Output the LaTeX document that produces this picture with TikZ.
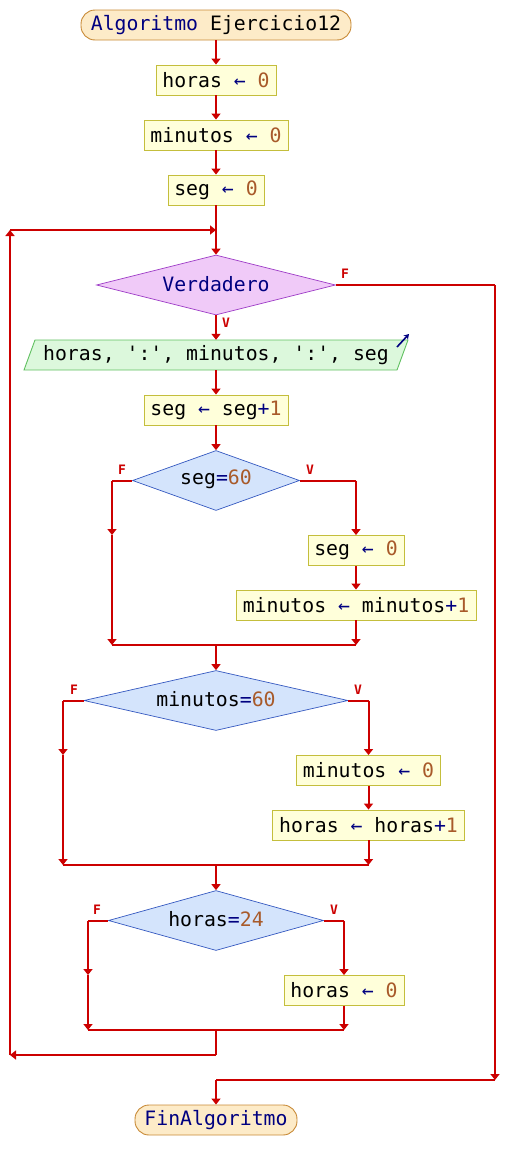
\documentclass[tikz,border=0pt]{standalone}
\usepackage{fontspec}
\newfontfamily\monof{DejaVu Sans Mono}
\usetikzlibrary{arrows.meta,shapes.geometric}
\definecolor{lred}{HTML}{CC0000}
\definecolor{navy}{HTML}{000080}
\definecolor{numc}{HTML}{A85A2A}
\definecolor{boxfill}{HTML}{FFFFDA}
\definecolor{boxline}{HTML}{C4BE3C}
\definecolor{termfill}{HTML}{FDEBC8}
\definecolor{termline}{HTML}{C88A36}
\definecolor{d1fill}{HTML}{F0CAF8}
\definecolor{d1line}{HTML}{A040C8}
\definecolor{dfill}{HTML}{D4E4FC}
\definecolor{dline}{HTML}{3458C0}
\definecolor{iofill}{HTML}{DCF8DC}
\definecolor{ioline}{HTML}{60C060}
\newcommand{\ar}{\textcolor{navy}{←}}
\newcommand{\nm}[1]{\textcolor{numc}{#1}}
\newcommand{\op}[1]{\textcolor{navy}{#1}}
\begin{document}
\begin{tikzpicture}[x=1pt,y=-1pt,
  txt/.style={font=\monof\fontsize{19.8}{22}\selectfont},
  assign/.style={txt,draw=boxline,fill=boxfill,line width=0.9pt,minimum height=30,inner sep=0pt},
  term/.style={txt,draw=termline,fill=termfill,line width=0.9pt,minimum height=30,inner sep=0pt,rounded corners=14pt},
  dia/.style={diamond,inner sep=0pt,line width=0.7pt,minimum height=60},
  flow/.style={draw=lred,line width=2pt},
  arr/.style={flow,-{Triangle[width=9pt,length=6pt]}},
  lab/.style={text=lred,font=\monof\bfseries\fontsize{13}{15}\selectfont,inner sep=0pt}
]
\useasboundingbox (0,0) rectangle (506,1170);

% nodes
\node[term,minimum width=270] (start) at (216,25) {\op{Algoritmo} Ejercicio12};
\node[assign,minimum width=120] (b1) at (216,80) {horas \ar{} \nm{0}};
\node[assign,minimum width=144] (b2) at (216,135) {minutos \ar{} \nm{0}};
\node[assign,minimum width=96] (b3) at (216,190) {seg \ar{} \nm{0}};

\node[dia,draw=d1line,fill=d1fill,minimum width=239] (d1) at (216,285) {};
\node[txt,text=navy] (d1t) at (216,284) {Verdadero};

\node[inner sep=0pt,minimum width=373,minimum height=30] (io) at (216,355) {};
\draw[draw=ioline,fill=iofill,line width=0.9pt] (24,370) -- (35,340) -- (408,340) -- (397,370) -- cycle;
\node[txt] (iot) at (216,355) {horas, ':', minutos, ':', seg};
\draw[navy,line width=1.6pt,-{Stealth[width=6pt,length=5pt]}] (397,347) -- (409,334);

\node[assign,minimum width=144] (b4) at (216,410) {seg \ar{} seg\op{+}\nm{1}};

\node[dia,draw=dline,fill=dfill,minimum width=167] (d2) at (216,480.5) {};
\node[txt] (d2t) at (216,479) {seg\op{=}\nm{60}};
\node[assign,minimum width=96] (b5) at (356,550.5) {seg \ar{} \nm{0}};
\node[assign,minimum width=240] (b6) at (356,605) {minutos \ar{} minutos\op{+}\nm{1}};

\node[dia,draw=dline,fill=dfill,minimum width=264] (d3) at (216,700.5) {};
\node[txt] (d3t) at (216,699) {minutos\op{=}\nm{60}};
\node[assign,minimum width=144] (b7) at (368.5,770.5) {minutos \ar{} \nm{0}};
\node[assign,minimum width=192] (b8) at (368.5,825) {horas \ar{} horas\op{+}\nm{1}};

\node[dia,draw=dline,fill=dfill,minimum width=215] (d4) at (216,920.5) {};
\node[txt] (d4t) at (216,919) {horas\op{=}\nm{24}};
\node[assign,minimum width=120] (b9) at (344,990.5) {horas \ar{} \nm{0}};

\node[term,minimum width=162,text=navy] (fin) at (216,1120) {FinAlgoritmo};

% coordinates
\coordinate (loopin) at (216,230);
\coordinate (loopL) at (10,230);
\coordinate (loopB) at (10,1055);
\coordinate (j4d) at (216,1055);
\coordinate (exR) at (495,285);
\coordinate (exB) at (495,1080);
\coordinate (exM) at (216,1080);

\coordinate (d2L) at (112,480.5);
\coordinate (d2Lm) at (112,535);
\coordinate (d2Lb) at (112,645);
\coordinate (d2R) at (356,480.5);
\coordinate (d2Rb) at (356,645);
\coordinate (j2) at (216,645);

\coordinate (d3L) at (63,700.5);
\coordinate (d3Lm) at (63,755);
\coordinate (d3Lb) at (63,865);
\coordinate (d3R) at (368.5,700.5);
\coordinate (d3Rb) at (368.5,865);
\coordinate (j3) at (216,865);

\coordinate (d4L) at (88,920.5);
\coordinate (d4Lm) at (88,975);
\coordinate (d4Lb) at (88,1030);
\coordinate (d4R) at (344,920.5);
\coordinate (d4Rb) at (344,1030);
\coordinate (j4) at (216,1030);

% connectors
\draw[arr] (start.south) -- (b1.north);
\draw[arr] (b1.south) -- (b2.north);
\draw[arr] (b2.south) -- (b3.north);
\draw[arr] (b3.south) -- (d1.north);
\draw[arr] (d1.south) -- (io.north);
\node[lab] (lv1) at (226,323) {V};
\draw[arr] (io.south) -- (b4.north);
\draw[arr] (b4.south) -- (d2.north);

% seg=60
\draw[flow] (d2.west) -- (d2L);
\draw[arr] (d2L) -- (d2Lm);
\draw[arr] (d2Lm) -- (d2Lb);
\draw[flow] (d2.east) -- (d2R);
\draw[arr] (d2R) -- (b5.north);
\draw[arr] (b5.south) -- (b6.north);
\draw[arr] (b6.south) -- (d2Rb);
\draw[flow] (d2Lb) -- (d2Rb);
\node[lab] (lf2) at (122,470) {F};
\node[lab] (lv2) at (310,470) {V};
\draw[arr] (j2) -- (d3.north);

% minutos=60
\draw[flow] (d3.west) -- (d3L);
\draw[arr] (d3L) -- (d3Lm);
\draw[arr] (d3Lm) -- (d3Lb);
\draw[flow] (d3.east) -- (d3R);
\draw[arr] (d3R) -- (b7.north);
\draw[arr] (b7.south) -- (b8.north);
\draw[arr] (b8.south) -- (d3Rb);
\draw[flow] (d3Lb) -- (d3Rb);
\node[lab] (lf3) at (74,690) {F};
\node[lab] (lv3) at (358,690) {V};
\draw[arr] (j3) -- (d4.north);

% horas=24
\draw[flow] (d4.west) -- (d4L);
\draw[arr] (d4L) -- (d4Lm);
\draw[arr] (d4Lm) -- (d4Lb);
\draw[flow] (d4.east) -- (d4R);
\draw[arr] (d4R) -- (b9.north);
\draw[arr] (b9.south) -- (d4Rb);
\draw[flow] (d4Lb) -- (d4Rb);
\node[lab] (lf4) at (97,910) {F};
\node[lab] (lv4) at (334,910) {V};

% loop back
\draw[flow] (j4) -- (j4d);
\draw[arr] (j4d) -- (loopB);
\draw[arr] (loopB) -- (loopL);
\draw[arr] (loopL) -- (loopin);

% exit
\draw[flow] (d1.east) -- (exR);
\node[lab] (lf1) at (345,274) {F};
\draw[arr] (exR) -- (exB);
\draw[flow] (exB) -- (exM);
\draw[arr] (exM) -- (fin.north);
\end{tikzpicture}
\end{document}
